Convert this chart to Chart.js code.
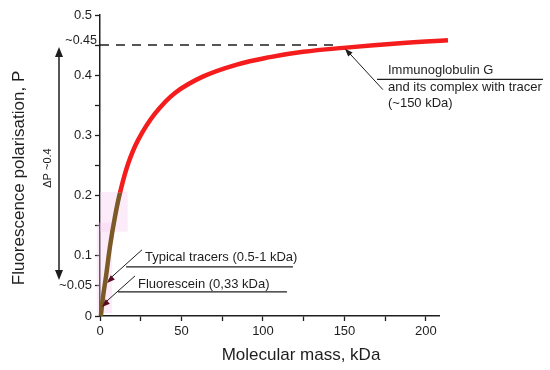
<!DOCTYPE html>
<html>
<head>
<meta charset="utf-8">
<script src="https://cdn.jsdelivr.net/npm/chart.js@4"></script>
<style>
html,body{margin:0;padding:0;background:#fff;}
#wrap{width:550px;height:370px;}
</style>
</head>
<body>
<div id="wrap"><canvas id="c" width="550" height="370"></canvas></div>
<script>
// ===== values =====
const CURVE_M = [0.5, 1, 2, 3.7, 6.1, 9.2, 12.3, 17.4, 23.5, 33.7, 46, 63.4, 83.9, 104.3, 124.7, 149.3, 184, 213.5];
const CURVE_P = [0, 0.012, 0.035, 0.066, 0.115, 0.165, 0.205, 0.254, 0.293, 0.336, 0.3705, 0.398, 0.4176, 0.43, 0.4388, 0.4454, 0.453, 0.458];
const BROWN_UPTO = 0.205;          // low-mass part of the curve drawn brown
const LEVEL_M = [0, 144];          // dashed plateau line
const LEVEL_P = [0.45, 0.45];
const Y_TICK_VALUES = [0, 0.05, 0.1, 0.15, 0.2, 0.25, 0.3, 0.35, 0.4, 0.45, 0.5];
const Y_TICK_TEXT   = ['0', '~0.05', '0.1', '', '0.2', '', '0.3', '', '0.4', '', '0.5'];
const Y_TOP_NOTE = '~0.45';        // sits a little above its tick, drawn by hand
const X_TICK_VALUES = [0, 25, 50, 75, 100, 125, 150, 175, 200];
const X_TICK_TEXT   = ['0', '', '50', '', '100', '', '150', '', '200'];

const C = {red:'#f41c1c', brown:'#7b5a27', ink:'#1e1e1e', pink:'rgba(246,200,238,0.35)', tip:'#5a0c1c'};
const FONT = "'Liberation Sans', Arial, sans-serif";

// ===== helpers =====
function arrowHead(ctx, x0, y0, x1, y1, len, half, color){
  const a = Math.atan2(y1 - y0, x1 - x0);
  ctx.save();
  ctx.fillStyle = color;
  ctx.beginPath();
  ctx.moveTo(x1, y1);
  ctx.lineTo(x1 - len*Math.cos(a) + half*Math.sin(a), y1 - len*Math.sin(a) - half*Math.cos(a));
  ctx.lineTo(x1 - len*Math.cos(a) - half*Math.sin(a), y1 - len*Math.sin(a) + half*Math.cos(a));
  ctx.closePath();
  ctx.fill();
  ctx.restore();
}
function line(ctx, x0, y0, x1, y1, w){
  ctx.save(); ctx.strokeStyle = C.ink; ctx.lineWidth = w || 1;
  ctx.beginPath(); ctx.moveTo(x0, y0); ctx.lineTo(x1, y1); ctx.stroke(); ctx.restore();
}

// faint pink highlight behind the low-mass part
const pinkBoxes = {
  id: 'pinkBoxes',
  beforeDatasetsDraw(chart){
    const {ctx, scales:{x, y}} = chart;
    ctx.save();
    ctx.fillStyle = C.pink;
    [[-2, 7.4, 0.005, 0.155], [0, 17, 0.14, 0.206]].forEach(b => {
      const x0 = x.getPixelForValue(b[0]), x1 = x.getPixelForValue(b[1]);
      const y0 = y.getPixelForValue(b[3]), y1 = y.getPixelForValue(b[2]);
      ctx.fillRect(x0, y0, x1 - x0, y1 - y0);
    });
    ctx.restore();
  }
};

// titles, ΔP arrow and the three call-outs
const notes = {
  id: 'notes',
  afterDraw(chart){
    const {ctx, scales:{x, y}} = chart;
    const X = v => x.getPixelForValue(v), Y = v => y.getPixelForValue(v);
    ctx.save();
    ctx.fillStyle = C.ink;
    ctx.textBaseline = 'middle';

    // axis titles
    ctx.font = '17px ' + FONT;
    ctx.textAlign = 'center';
    ctx.fillText('Molecular mass, kDa', 301, 355);
    ctx.save(); ctx.translate(19, 178); ctx.rotate(-Math.PI/2);
    ctx.fillText('Fluorescence polarisation, P', 0, 0); ctx.restore();

    // ~0.45 label, nudged up and toward the axis
    ctx.font = '12.5px ' + FONT;
    ctx.textAlign = 'right';
    ctx.fillText(Y_TOP_NOTE, x.left - 3, Y(0.45) - 5);

    // ΔP double arrow
    const ax = 59, yt = Y(0.447), yb = Y(0.06);
    ctx.textAlign = 'center';
    line(ctx, ax, yt + 6, ax, yb - 6, 1.5);
    arrowHead(ctx, ax, yb, ax, yt, 10, 4, C.ink);
    arrowHead(ctx, ax, yt, ax, yb, 10, 4, C.ink);
    ctx.save(); ctx.translate(48, 168); ctx.rotate(-Math.PI/2);
    ctx.font = '11px ' + FONT; ctx.fillText('\u0394P ~0.4', 0, 0); ctx.restore();

    ctx.font = '13px ' + FONT;
    ctx.textAlign = 'left';

    // Immunoglobulin G
    line(ctx, X(173.6), Y(0.376), X(151.5), Y(0.441), 1);
    arrowHead(ctx, X(173.6), Y(0.376), X(150.3), Y(0.444), 8, 3, C.ink);
    line(ctx, X(170), Y(0.393), 543, Y(0.393), 1.2);
    ctx.fillText('Immunoglobulin G', X(176.7), Y(0.408));
    ctx.fillText('and its complex with tracer', X(176.7), Y(0.38));
    ctx.fillText('(~150 kDa)', X(176.7), Y(0.353));

    // Typical tracers
    line(ctx, X(25.8), Y(0.11), X(5.2), Y(0.06), 1);
    arrowHead(ctx, X(25.8), Y(0.11), X(4.3), Y(0.055), 8, 3, C.tip);
    line(ctx, X(16), Y(0.0815), X(118.4), Y(0.0815), 1.2);
    ctx.fillText('Typical tracers (0.5-1 kDa)', X(27.6), Y(0.097));

    // Fluorescein
    line(ctx, X(21.5), Y(0.0666), X(2.2), Y(0.02), 1);
    arrowHead(ctx, X(21.5), Y(0.0666), X(1.2), Y(0.015), 8, 3, C.tip);
    line(ctx, X(11), Y(0.04), X(114.7), Y(0.04), 1.2);
    ctx.fillText('Fluorescein (0,33 kDa)', X(23.3), Y(0.053));

    ctx.restore();
  }
};

const axisCommon = {
  border:{color:C.ink, width:1.5},
  grid:{drawOnChartArea:false, tickLength:5, color:C.ink, tickWidth:1.3},
  ticks:{color:C.ink, font:{family:FONT, size:13}, autoSkip:false, maxRotation:0, padding:3}
};

new Chart(document.getElementById('c'), {
  type: 'line',
  data: {
    datasets: [
      {
        data: CURVE_M.map((m, i) => ({x:m, y:CURVE_P[i]})),
        borderColor: C.red, borderWidth: 4.5, pointRadius: 0,
        tension: 0.4, clip: false,
        segment: {borderColor: s => s.p1.parsed.y <= BROWN_UPTO ? C.brown : C.red}
      },
      {
        data: LEVEL_M.map((m, i) => ({x:m, y:LEVEL_P[i]})),
        borderColor: C.ink, borderWidth: 1.5, borderDash: [9, 7], pointRadius: 0
      }
    ]
  },
  options: {
    responsive: false, animation: false, devicePixelRatio: 1,
    layout: {padding: {top: 15, right: 111, left: 0, bottom: 0}},
    plugins: {legend: {display: false}, tooltip: {enabled: false}},
    scales: {
      x: Object.assign({}, axisCommon, {
        type: 'linear', min: 0, max: 208,
        afterBuildTicks: s => { s.ticks = X_TICK_VALUES.map(v => ({value: v})); },
        afterFit: s => { s.height = 54; },
        ticks: Object.assign({}, axisCommon.ticks, {callback: (v, i) => X_TICK_TEXT[i]})
      }),
      y: Object.assign({}, axisCommon, {
        min: 0, max: 0.5,
        afterBuildTicks: s => { s.ticks = Y_TICK_VALUES.map(v => ({value: v})); },
        afterFit: s => { s.width = 100; },
        ticks: Object.assign({}, axisCommon.ticks, {callback: (v, i) => Y_TICK_TEXT[i]})
      })
    }
  },
  plugins: [pinkBoxes, notes]
});
</script>
</body>
</html>
